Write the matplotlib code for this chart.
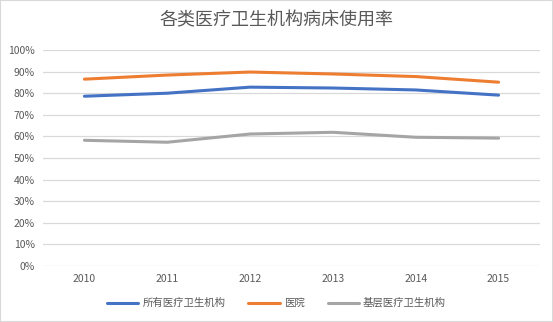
import matplotlib
matplotlib.use("Agg")
import matplotlib.pyplot as plt
from matplotlib.patches import Rectangle

plt.rcParams['font.family'] = ['Noto Sans CJK SC', 'DejaVu Sans']

years = ["2010", "2011", "2012", "2013", "2014", "2015"]
all_inst = [78.6, 80.0, 82.8, 82.4, 81.5, 79.1]
hospital = [86.5, 88.4, 89.8, 88.9, 87.7, 85.1]
primary = [58.2, 57.3, 61.1, 61.9, 59.6, 59.2]
series_names = ["所有医疗卫生机构", "医院", "基层医疗卫生机构"]
title = "各类医疗卫生机构病床使用率"

colors = ["#4472C4", "#ED7D31", "#A5A5A5"]
text_color = "#595959"

fig = plt.figure(figsize=(5.53, 3.22), dpi=100)
ax = fig.add_axes([43/553, 1-266/322, (540-43)/553, (266-50)/322])

x = list(range(len(years)))
for vals, name, c in zip([all_inst, hospital, primary], series_names, colors):
    ax.plot(x, [v/100 for v in vals], color=c, lw=2.2, label=name, solid_capstyle='round')

ax.set_xlim(-0.5, len(years)-0.5)
ax.set_ylim(0, 1.0)
ax.set_yticks([i/10 for i in range(11)])
ax.set_yticklabels([f"{i*10}%" for i in range(11)])
ax.set_xticks(x)
ax.set_xticklabels(years)
ax.tick_params(length=0, colors=text_color, labelsize=7.5, pad=6)
ax.grid(axis='y', color='#d9d9d9', lw=0.9)
ax.set_axisbelow(True)
for s in ax.spines.values():
    s.set_visible(False)

fig.text(0.5, 1-20/322, title, ha='center', va='center', fontsize=13, color=text_color)

leg = fig.legend(loc='center', bbox_to_anchor=(0.5, 1-303/322), ncol=3, frameon=False,
                 fontsize=7.5, handlelength=3.0, columnspacing=2.2, handletextpad=0.4)
for t in leg.get_texts():
    t.set_color(text_color)

fig.patches.append(Rectangle((0, 0), 1, 1, transform=fig.transFigure, fill=False,
                             edgecolor='#d9d9d9', lw=1.5))

fig.savefig("out.png", dpi=100, facecolor='white')
